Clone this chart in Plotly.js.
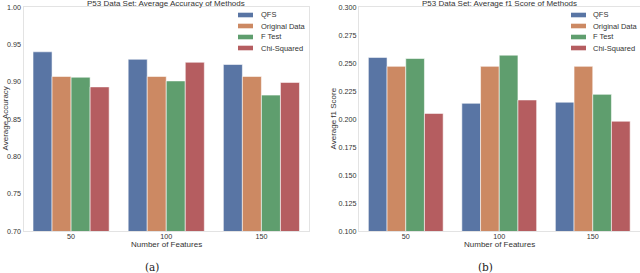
<!DOCTYPE html>
<html>
<head>
<meta charset="utf-8">
<script src="https://cdn.plot.ly/plotly-3.0.1.min.js"></script>
<style>html,body{margin:0;padding:0;background:#fff;}#chart{width:640px;height:273px;}</style>
</head>
<body>
<div id="chart"></div>
<script>
var categories = ['50', '100', '150'];
var methods = ['QFS', 'Original Data', 'F Test', 'Chi-Squared'];
var colors = ['#5975a4', '#cc8963', '#5f9e6e', '#b55d60'];

var accQFS = [0.940, 0.930, 0.923];
var accOriginal = [0.907, 0.907, 0.907];
var accFTest = [0.906, 0.901, 0.882];
var accChi = [0.893, 0.926, 0.899];

var f1QFS = [0.255, 0.214, 0.215];
var f1Original = [0.247, 0.247, 0.247];
var f1FTest = [0.254, 0.257, 0.222];
var f1Chi = [0.205, 0.217, 0.198];

var accTicks = [0.70, 0.75, 0.80, 0.85, 0.90, 0.95, 1.00];
var f1Ticks = [0.100, 0.125, 0.150, 0.175, 0.200, 0.225, 0.250, 0.275, 0.300];

var accSeries = [accQFS, accOriginal, accFTest, accChi];
var f1Series = [f1QFS, f1Original, f1FTest, f1Chi];

var traces = [];
accSeries.forEach(function (vals, i) {
  traces.push({
    type: 'bar', x: categories, y: vals, name: methods[i], showlegend: false,
    marker: {color: colors[i], line: {color: 'rgba(255,255,255,0.7)', width: 0.8}},
    xaxis: 'x', yaxis: 'y'
  });
});
f1Series.forEach(function (vals, i) {
  traces.push({
    type: 'bar', x: categories, y: vals, name: methods[i], showlegend: false,
    marker: {color: colors[i], line: {color: 'rgba(255,255,255,0.7)', width: 0.8}},
    xaxis: 'x2', yaxis: 'y2'
  });
});

var SANS = 'Liberation Sans, Arial, sans-serif';
var tickFont = {family: SANS, size: 7.2, color: '#333'};
var titleFont = {family: SANS, size: 8, color: '#333'};
var legFont = {family: SANS, size: 7.5, color: '#333'};
var capFont = {family: 'DejaVu Serif, Liberation Serif, serif', size: 10.5, color: '#222'};
var frame = {showline: true, mirror: true, linecolor: '#e3e3e3', linewidth: 1, showgrid: false,
  zeroline: false, ticks: '', automargin: false, fixedrange: true};

// pixel helpers (plot area: y from 7 to 231, margins l=r=0)
function px(x) { return x / 640; }
function py(y) { return (231 - y) / 224; }

var shapes = [];
var annotations = [
  {text: 'P53 Data Set: Average Accuracy of Methods', x: px(166), y: py(4), xanchor: 'center', yanchor: 'middle', font: titleFont},
  {text: 'P53 Data Set: Average f1 Score of Methods', x: px(499), y: py(4), xanchor: 'center', yanchor: 'middle', font: titleFont},
  {text: 'Average Accuracy', x: px(4.5), y: py(119), xanchor: 'center', yanchor: 'middle', textangle: -90, font: titleFont},
  {text: 'Average f1 Score', x: px(332.5), y: py(119), xanchor: 'center', yanchor: 'middle', textangle: -90, font: titleFont},
  {text: 'Number of Features', x: px(166), y: py(244.5), xanchor: 'center', yanchor: 'middle', font: titleFont},
  {text: 'Number of Features', x: px(499), y: py(244.5), xanchor: 'center', yanchor: 'middle', font: titleFont},
  {text: '(a)', x: px(152), y: py(267), xanchor: 'center', yanchor: 'middle', font: capFont},
  {text: '(b)', x: px(485), y: py(267), xanchor: 'center', yanchor: 'middle', font: capFont}
];

var legendPos = [{sx: 238, tx: 259}, {sx: 571, tx: 591}];
var rowY = [15, 26, 37, 48];
legendPos.forEach(function (lp) {
  methods.forEach(function (m, i) {
    shapes.push({type: 'rect', xref: 'paper', yref: 'paper',
      x0: px(lp.sx), x1: px(lp.sx + 15), y0: py(rowY[i] + 2.3), y1: py(rowY[i] - 2.3),
      fillcolor: colors[i], line: {width: 0}});
    annotations.push({text: m, x: px(lp.tx), y: py(rowY[i]), xanchor: 'left', yanchor: 'middle', font: legFont});
  });
});
annotations.forEach(function (a) { a.xref = 'paper'; a.yref = 'paper'; a.showarrow = false; });

var layout = {
  width: 640, height: 273,
  margin: {l: 0, r: 0, t: 7, b: 42, autoexpand: false},
  paper_bgcolor: '#fff', plot_bgcolor: '#fff',
  barmode: 'group', bargap: 0.2, bargroupgap: 0,
  font: tickFont,
  showlegend: false,
  xaxis: Object.assign({domain: [px(23.5), px(309)], type: 'category', tickfont: tickFont, ticklabelstandoff: -2, anchor: 'y'}, frame),
  yaxis: Object.assign({range: [0.70, 1.00], tickvals: accTicks, tickformat: '.2f', tickfont: tickFont, anchor: 'x'}, frame),
  xaxis2: Object.assign({domain: [px(359), px(639.5)], type: 'category', tickfont: tickFont, ticklabelstandoff: -2, anchor: 'y2'}, frame),
  yaxis2: Object.assign({range: [0.100, 0.300], tickvals: f1Ticks, tickformat: '.3f', tickfont: tickFont, anchor: 'x2'}, frame),
  shapes: shapes,
  annotations: annotations
};

Plotly.newPlot('chart', traces, layout, {displayModeBar: false, staticPlot: true});
</script>
</body>
</html>
